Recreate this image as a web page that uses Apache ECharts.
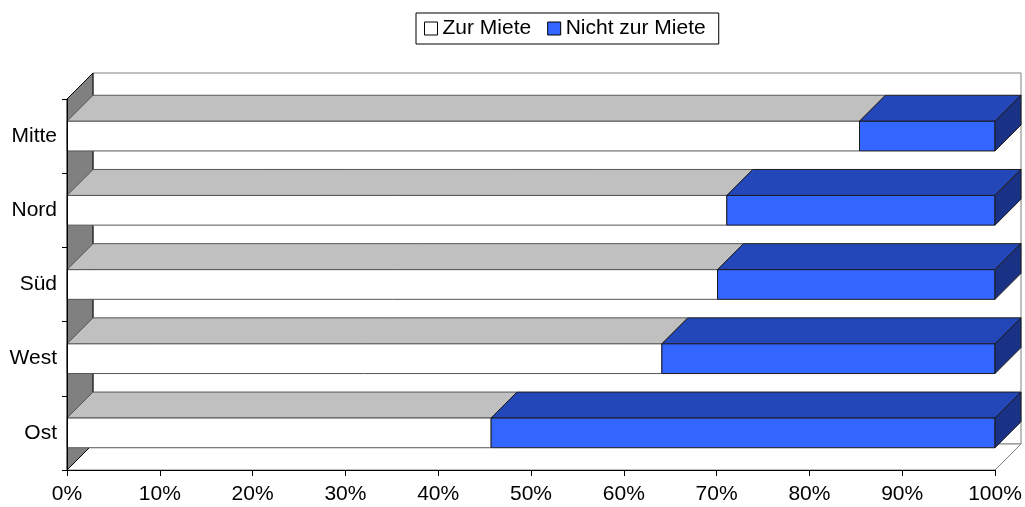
<!DOCTYPE html>
<html>
<head>
<meta charset="utf-8">
<script src="https://cdn.jsdelivr.net/npm/echarts@6/dist/echarts.min.js"></script>
<style>
  html, body { margin: 0; padding: 0; background: #fff; }
  #chartsDiv { width: 1025px; height: 507px; }
</style>
</head>
<body>
<div id="chartsDiv"></div>
<script>
var regions = ['Mitte', 'Nord', 'Süd', 'West', 'Ost']
var zurMiete = [85.4, 71.1, 70.1, 64.1, 45.7]
var nichtZurMiete = [14.6, 28.9, 29.9, 35.9, 54.3]
var seriesNames = ['Zur Miete', 'Nicht zur Miete']

var DEPTH = 26
var FONT = "'Liberation Sans', Arial, sans-serif"

var realChart = echarts.init(document.getElementById('chartsDiv'), null, { renderer: 'canvas' })

// [category index, start, end]
var stackData = function(vals, base) {
  return vals.map(function(v, i) {
    var s = base ? base[i] : 0
    return [i, s, s + v]
  })
}

var barRenderer = function(front, top, side, stroke, withSide) {
  return function(params, api) {
    var cat = api.value(0)
    var a = api.coord([api.value(1), cat])
    var b = api.coord([api.value(2), cat])
    var h = api.size([0, 1])[1] * 0.4
    var x0 = a[0], x1 = b[0]
    var y0 = a[1] - h / 2, y1 = a[1] + h / 2
    var d = DEPTH
    var kids = [
      {
        type: 'polygon',
        shape: { points: [[x0, y0], [x1, y0], [x1 + d, y0 - d], [x0 + d, y0 - d]] },
        style: { fill: top, stroke: stroke, lineWidth: 1 }
      },
      {
        type: 'rect',
        shape: { x: x0, y: y0, width: x1 - x0, height: y1 - y0 },
        style: { fill: front, stroke: stroke, lineWidth: 1 }
      }
    ]
    if (withSide) {
      kids.push({
        type: 'polygon',
        shape: { points: [[x1, y0], [x1 + d, y0 - d], [x1 + d, y1 - d], [x1, y1]] },
        style: { fill: side, stroke: stroke, lineWidth: 1 }
      })
    }
    return { type: 'group', children: kids }
  }
}

var wallRenderer = function(params, api) {
  var c = params.coordSys
  var d = DEPTH
  var x = c.x, y = c.y, w = c.width, h = c.height
  return {
    type: 'group',
    children: [
      {
        type: 'rect',
        shape: { x: x + d, y: y - d, width: w, height: h },
        style: { fill: '#fff', stroke: '#808080', lineWidth: 1 }
      },
      {
        type: 'polygon',
        shape: { points: [[x, y + h], [x + w, y + h], [x + w + d, y + h - d], [x + d, y + h - d]] },
        style: { fill: '#fff', stroke: '#808080', lineWidth: 1 }
      },
      {
        type: 'polygon',
        shape: { points: [[x, y], [x + d, y - d], [x + d, y + h - d], [x, y + h]] },
        style: { fill: '#808080', stroke: '#000', lineWidth: 1 }
      }
    ]
  }
}

var option = {
  animation: false,
  textStyle: { fontFamily: FONT },
  legend: {
    left: 416,
    top: 13,
    padding: [5, 13, 5, 8],
    itemGap: 16,
    itemWidth: 13,
    itemHeight: 13,
    borderColor: '#000',
    borderWidth: 1,
    textStyle: { color: '#000', fontSize: 21, fontFamily: FONT, padding: [0, 0, 0, 0] },
    data: [
      { name: seriesNames[0], icon: 'rect', itemStyle: { color: '#fff', borderColor: '#000', borderWidth: 1 } },
      { name: seriesNames[1], icon: 'rect', itemStyle: { color: '#3366FF', borderColor: '#000', borderWidth: 1 } }
    ]
  },
  grid: { left: 67, right: 30, top: 99, bottom: 37 },
  xAxis: {
    type: 'value',
    min: 0,
    max: 100,
    interval: 10,
    z: 10,
    axisLine: { show: true, lineStyle: { color: '#000', width: 1 } },
    axisTick: { show: true, length: 6, lineStyle: { color: '#000' } },
    splitLine: { show: false },
    axisLabel: {
      color: '#000',
      fontSize: 21,
      margin: 14,
      formatter: function(v) { return v + '%' }
    }
  },
  yAxis: {
    type: 'category',
    data: regions,
    inverse: true,
    z: 10,
    axisLine: { show: true, lineStyle: { color: '#000', width: 1 } },
    axisTick: { show: true, length: 5, lineStyle: { color: '#000' } },
    axisLabel: { color: '#000', fontSize: 21, margin: 10 }
  },
  series: [
    {
      name: 'walls',
      type: 'custom',
      z: 1,
      silent: true,
      renderItem: wallRenderer,
      data: [[0, 0, 0]]
    },
    {
      name: seriesNames[0],
      type: 'custom',
      z: 3,
      itemStyle: { color: '#fff' },
      encode: { x: [1, 2], y: 0 },
      renderItem: barRenderer('#ffffff', '#C0C0C0', '#A0A0A0', '#555', false),
      data: stackData(zurMiete)
    },
    {
      name: seriesNames[1],
      type: 'custom',
      z: 3,
      itemStyle: { color: '#3366FF' },
      encode: { x: [1, 2], y: 0 },
      renderItem: barRenderer('#3366FF', '#2347B9', '#1A3286', '#1a1a1a', true),
      data: stackData(nichtZurMiete, zurMiete)
    }
  ]
}

realChart.setOption(option)
</script>
</body>
</html>
